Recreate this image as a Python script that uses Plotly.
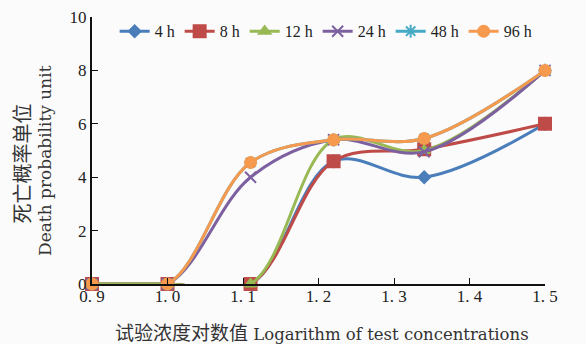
import plotly.graph_objects as go

x_vals = [0.9, 1.0, 1.11, 1.22, 1.34, 1.5]
series_names = ["4 h", "8 h", "12 h", "24 h", "48 h", "96 h"]
y_4h = [0, 0, 0, 4.6, 4.0, 6.0]
y_8h = [0, 0, 0, 4.6, 5.05, 6.0]
y_12h = [0, 0, 0, 5.4, 5.0, 8.0]
y_24h = [0, 0, 4.0, 5.4, 4.95, 8.0]
y_48h = [0, 0, 4.55, 5.4, 5.45, 8.0]
y_96h = [0, 0, 4.55, 5.4, 5.45, 8.0]
x_ticks = [0.9, 1.0, 1.1, 1.2, 1.3, 1.4, 1.5]
x_tick_labels = ["0. 9", "1. 0", "1. 1", "1. 2", "1. 3", "1. 4", "1. 5"]
y_ticks = [0, 2, 4, 6, 8, 10]
x_title_cn = "试验浓度对数值"
x_title_en = "Logarithm of test concentrations"
y_title_cn = "死亡概率单位"
y_title_en = "Death probability unit"

all_y = [y_4h, y_8h, y_12h, y_24h, y_48h, y_96h]
colors = ["#4A7EBB", "#BE4B48", "#98B954", "#7D60A0", "#46AAC5", "#F59A4E"]
symbols = ["diamond", "square", "triangle-up", "x-thin", "asterisk", "circle"]
msizes = [9, 12, 10, 11, 11, 11]

fig = go.Figure()
for name, ys, c, s, ms in zip(series_names, all_y, colors, symbols, msizes):
    fig.add_trace(go.Scatter(
        x=x_vals, y=ys, name=name, mode="lines+markers",
        line=dict(color=c, width=3, shape="spline", smoothing=1.0),
        marker=dict(symbol=s, size=ms, color=c, line=dict(color=c, width=2)),
        cliponaxis=False,
    ))

font_main = "Liberation Serif, Noto Sans CJK SC, serif"
font_title = "DejaVu Serif, Noto Sans CJK SC, serif"
fig.update_layout(
    width=586, height=344,
    margin=dict(l=92, r=41, t=17, b=60),
    paper_bgcolor="#fbfbfb", plot_bgcolor="#fbfbfb",
    font=dict(family=font_main, size=15, color="#222"),
    showlegend=True,
    legend=dict(orientation="h", x=0.05, y=1.01, xanchor="left", yanchor="top",
                bgcolor="rgba(0,0,0,0)", font=dict(size=16), itemwidth=30,
                tracegroupgap=0),
    xaxis=dict(range=[0.9, 1.5], tickvals=x_ticks, ticktext=x_tick_labels,
               showgrid=False, zeroline=False, showline=True, linecolor="#111",
               linewidth=2, ticks="inside", ticklen=6, tickcolor="#111",
               tickfont=dict(size=17), automargin=False, ticklabelstandoff=-4),
    yaxis=dict(range=[0, 10], tickvals=y_ticks, showgrid=False, zeroline=False,
               showline=True, linecolor="#111", linewidth=2, ticks="inside",
               ticklen=6, tickcolor="#111", tickfont=dict(size=17),
               automargin=False),
    annotations=[
        dict(text=f'<span style="font-size:19px">{x_title_cn}</span> {x_title_en}',
             xref="paper", yref="paper", x=0.508, y=-0.185,
             xanchor="center", yanchor="middle", showarrow=False,
             font=dict(size=16.5, family=font_title, color="#333")),
        dict(text=y_title_cn, xref="paper", yref="paper", x=-0.152, y=0.452,
             xanchor="center", yanchor="middle", textangle=-90, showarrow=False,
             font=dict(size=20, family=font_title, color="#333")),
        dict(text=y_title_en, xref="paper", yref="paper", x=-0.104, y=0.464,
             xanchor="center", yanchor="middle", textangle=-90, showarrow=False,
             font=dict(size=17, family=font_title, color="#333")),
    ],
)
fig.write_html("out.html", config={"displayModeBar": False},
               post_script="document.body.style.margin='0';document.body.style.padding='0';")
